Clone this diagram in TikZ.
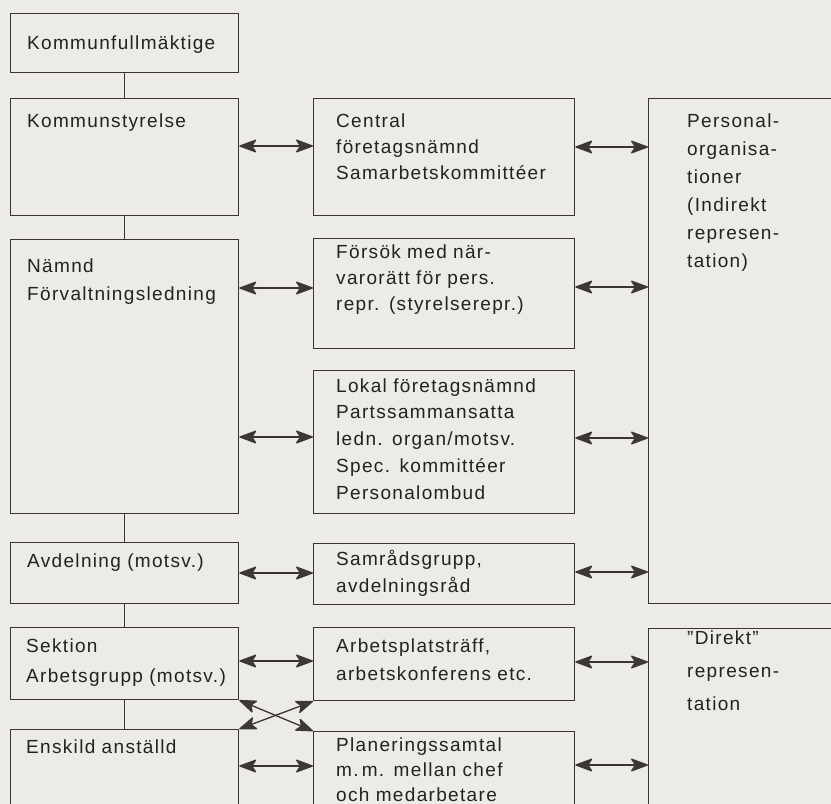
\documentclass[tikz,border=0pt]{standalone}
\usepackage{fontspec}
\setmainfont[LetterSpace=7,WordSpace=1.5]{Liberation Sans}
\usetikzlibrary{arrows.meta}
\definecolor{paper}{HTML}{ECEBE8}
\definecolor{ink}{HTML}{3A3434}
\definecolor{tipc}{HTML}{3C3838}
\definecolor{txtc}{HTML}{242121}
\tikzset{
  box/.style={draw=ink, line width=1.3pt, inner sep=0pt, anchor=north west},
  txt/.style={anchor=base west, inner sep=0pt, text width=300pt, align=left,
              text=txtc, font=\fontsize{19}{#1}\selectfont},
  txt/.default=27pt,
  link/.style={draw=ink, line width=1.3pt},
  dbl/.style={draw=ink, line width=1.3pt,
    {Stealth[length=19pt,width=14pt,inset=4.5pt,fill=tipc,color=tipc,round]}-{Stealth[length=19pt,width=14pt,inset=4.5pt,fill=tipc,color=tipc,round]}}
}
\begin{document}
\begin{tikzpicture}[x=1pt,y=-1pt]
  \fill[paper] (0,0) rectangle (831,804);
  \useasboundingbox (0,0) rectangle (831,804);
  \clip (0,0) rectangle (831,804);

  % left column: the hierarchy
  \node[box, minimum width=228pt, minimum height=59pt]  (KF) at (10,13) {};
  \node[box, minimum width=228pt, minimum height=117pt] (KS) at (10,98) {};
  \node[box, minimum width=228pt, minimum height=274pt] (NA) at (10,239) {};
  \node[box, minimum width=228pt, minimum height=61pt]  (AV) at (10,542) {};
  \node[box, minimum width=228pt, minimum height=72pt]  (SE) at (10,627) {};
  \node[box, minimum width=228pt, minimum height=120pt] (EN) at (10,729) {};

  % middle column: forms of participation
  \node[box, minimum width=261pt, minimum height=117pt] (CE) at (313,98) {};
  \node[box, minimum width=261pt, minimum height=110pt] (FO) at (313,238) {};
  \node[box, minimum width=261pt, minimum height=143pt] (LO) at (313,370) {};
  \node[box, minimum width=261pt, minimum height=61pt]  (SA) at (313,543) {};
  \node[box, minimum width=261pt, minimum height=73pt]  (AP) at (313,627) {};
  \node[box, minimum width=261pt, minimum height=120pt] (PL) at (313,731) {};

  % right column: representation
  \node[box, minimum width=220pt, minimum height=505pt] (PO) at (648,98) {};
  \node[box, minimum width=220pt, minimum height=220pt] (DI) at (648,628) {};

  % texts
  \node[txt] (tKF) at (27,49)  {Kommunfullmäktige};
  \node[txt] (tKS) at (27,127) {Kommunstyrelse};
  \node[txt=28pt] (tNA) at (27,272) {Nämnd\\Förvaltningsledning};
  \node[txt] (tAV) at (27,567) {Avdelning (motsv.)};
  \node[txt=30pt] (tSE) at (26,652) {Sektion\\Arbetsgrupp (motsv.)};
  \node[txt] (tEN) at (26,753) {Enskild anställd};

  \node[txt=26pt] (tCE) at (336,127) {Central\\företagsnämnd\\Samarbetskommittéer};
  \node[txt=26pt] (tFO) at (336,258) {Försök med när-\\varorätt för pers.\\repr. (styrelserepr.)};
  \node[txt=26.8pt] (tLO) at (336,392) {Lokal företagsnämnd\\Partssammansatta\\ledn. organ/motsv.\\Spec. kommittéer\\Personalombud};
  \node[txt] (tSA) at (336,565) {Samrådsgrupp,\\avdelningsråd};
  \node[txt=28pt] (tAP) at (336,652) {Arbetsplatsträff,\\arbetskonferens etc.};
  \node[txt=25pt] (tPL) at (336,751) {Planeringssamtal\\m.\,m. mellan chef\\och medarbetare};

  \node[txt=28pt] (tPO) at (687,127) {Personal-\\organisa-\\tioner\\(Indirekt\\represen-\\tation)};
  \node[txt=33pt] (tDI) at (687,644) {\symbol{34}Direkt\symbol{34}\\represen-\\tation};

  % vertical links in the hierarchy
  \draw[link] (KF.south) -- (KS.north);
  \draw[link] (KS.south) -- (NA.north);
  \draw[link] (NA.south) -- (AV.north);
  \draw[link] (AV.south) -- (SE.north);
  \draw[link] (SE.south) -- (EN.north);

  % two-way arrows, left to middle
  \draw[dbl] (KS.east |- 0,146) -- (CE.west |- 0,146);
  \draw[dbl] (NA.east |- 0,288) -- (FO.west |- 0,288);
  \draw[dbl] (NA.east |- 0,437) -- (LO.west |- 0,437);
  \draw[dbl] (AV.east |- 0,573) -- (SA.west |- 0,573);
  \draw[dbl] (SE.east |- 0,661) -- (AP.west |- 0,661);
  \draw[dbl] (EN.east |- 0,766) -- (PL.west |- 0,766);
  \draw[dbl] (SE.south east) -- (PL.north west);
  \draw[dbl] (EN.north east) -- (AP.south west);

  % two-way arrows, middle to right
  \draw[dbl] (CE.east |- 0,147) -- (PO.west |- 0,147);
  \draw[dbl] (FO.east |- 0,287) -- (PO.west |- 0,287);
  \draw[dbl] (LO.east |- 0,438) -- (PO.west |- 0,438);
  \draw[dbl] (SA.east |- 0,572) -- (PO.west |- 0,572);
  \draw[dbl] (AP.east |- 0,662) -- (DI.west |- 0,662);
  \draw[dbl] (PL.east |- 0,765) -- (DI.west |- 0,765);
\end{tikzpicture}
\end{document}
